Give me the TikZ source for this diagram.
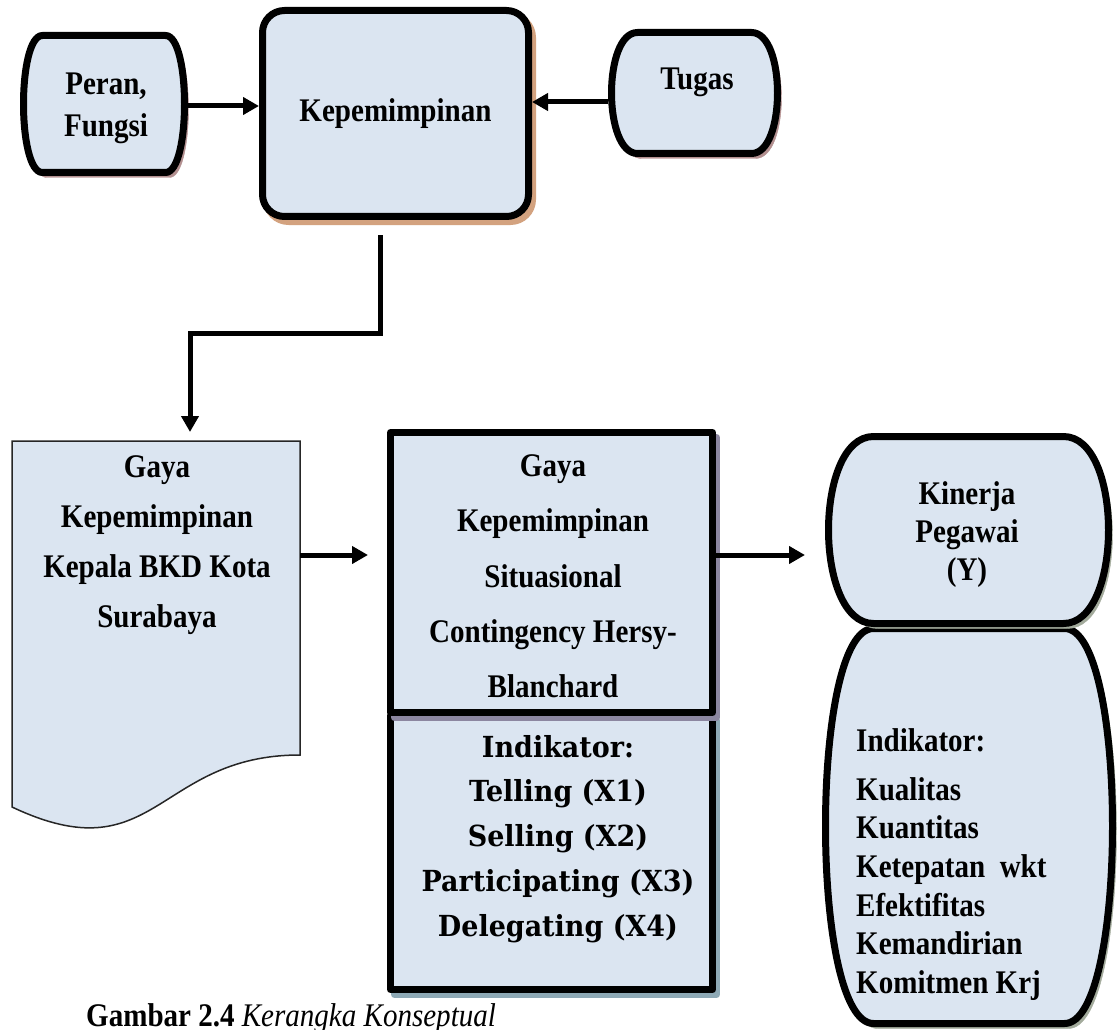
\documentclass[tikz,border=0pt]{standalone}
\usepackage{fontspec}
\setmainfont[FakeStretch=0.88]{Liberation Serif}
\newfontfamily\cambriafont[FakeStretch=0.93]{DejaVu Serif}
\usetikzlibrary{arrows.meta,calc,positioning}
\definecolor{BoxFill}{HTML}{DBE5F1}
\definecolor{ShadeRose}{HTML}{B39090}
\definecolor{ShadeTan}{HTML}{D3A27F}
\definecolor{ShadeMauve}{HTML}{8C86A0}
\definecolor{ShadeSlate}{HTML}{8EA9B5}
\definecolor{ShadeSage}{HTML}{A3AB9C}
\tikzset{
  flowarrow/.style={-{Triangle[length=16pt,width=17pt]},line width=5pt},
  boxline/.style={draw=black,line width=7pt,fill=BoxFill,line join=round},
  shadowcast/.style={fill=#1,draw=#1,transform canvas={shift={(4pt,-5pt)}}},
  slot/.style n args={2}{inner sep=0pt,outer sep=0pt,minimum width=#1,minimum height=#2},
  txt/.style={inner sep=0pt,align=center,font=\bfseries\fontsize{33pt}{#1}\selectfont},
  sittxt/.style={inner sep=0pt,align=center,font=\cambriafont\bfseries\fontsize{29pt}{44.75pt}\selectfont},
  kepbox/.style={boxline,rounded corners=22pt,preaction={shadowcast=ShadeTan},minimum width=266pt,minimum height=206pt,font=\bfseries\fontsize{33pt}{40pt}\selectfont},
  sqbox/.style={boxline,preaction={shadowcast=#1}},
  docline/.style={draw=black!85,line width=1.5pt,fill=BoxFill}
}
% barrel shaped box round an empty slot node
\newcommand{\barrelbox}[3]{%
  \path[boxline,preaction={shadowcast=#3}] let \p1=(#1.north west),\p2=(#1.south east) in
    (\x1+#2+3.5pt,\y1-3.5pt) -- (\x2-#2-3.5pt,\y1-3.5pt)
    .. controls (\x2-3.5pt+#2/3,\y1-3.5pt) and (\x2-3.5pt+#2/3,\y2+3.5pt) .. (\x2-#2-3.5pt,\y2+3.5pt)
    -- (\x1+#2+3.5pt,\y2+3.5pt)
    .. controls (\x1+3.5pt-#2/3,\y2+3.5pt) and (\x1+3.5pt-#2/3,\y1-3.5pt) .. cycle;}

\begin{document}
\begin{tikzpicture}[x=1pt,y=-1pt]
  \fill[white] (0,0) rectangle (1120,1030);
  \useasboundingbox (0,0) rectangle (1120,1030);

  % top row
  \node[slot={168pt}{144pt}] (peran) at (104,104) {};
  \node[slot={173pt}{128pt}] (tugas) at (694.5,93) {};
  \barrelbox{peran}{19pt}{ShadeRose}
  \barrelbox{tugas}{26pt}{ShadeRose}
  \node[kepbox] (kep) at (395.5,113.5) {Kepemimpinan};
  \node[txt=42pt,anchor=north] at (106,73) {Peran,\\Fungsi};
  \node[txt=40pt,anchor=base] at (697,90) {Tugas};

  % bottom row
  \node[slot={288pt}{314pt}] (gaya) at (156,598) {};
  \path[docline] (gaya.north west) -- (gaya.north east) -- (gaya.south east)
    .. controls (gaya.south) and ($(gaya.south)+(0,120)$) .. ($(gaya.south west)+(0,52)$) -- cycle;
  \node[txt=50pt,anchor=north] at (157,455.5) {Gaya\\Kepemimpinan\\Kepala BKD Kota\\Surabaya};

  \node[sqbox=ShadeSlate,minimum width=322pt,minimum height=274pt] (indsit) at (551.5,852.5) {};
  \node[sqbox=ShadeMauve,minimum width=322pt,minimum height=280pt] (situasi) at (551.5,572.5) {};
  \node[txt=55.25pt,anchor=north] at (553,454.5) {Gaya\\Kepemimpinan\\Situasional\\Contingency Hersy-\\Blanchard};
  \node[sittxt,anchor=north] at (558,735) {Indikator:\\Telling (X1)\\Selling (X2)\\Participating (X3)\\Delegating (X4)};

  \node[slot={294pt}{402pt}] (indkin) at (969,826) {};
  \node[slot={287pt}{194pt}] (kinerja) at (968.5,530) {};
  \barrelbox{indkin}{48pt}{ShadeSage}
  \barrelbox{kinerja}{45pt}{ShadeSage}
  \node[txt=38pt,anchor=north] at (967,481.5) {Kinerja\\Pegawai\\(Y)};
  \node[txt=38.6pt,anchor=north west,align=left] at (856,728.5)
    {Indikator:\\[10pt]Kualitas\\Kuantitas\\Ketepatan~ wkt\\Efektifitas\\Kemandirian\\Komitmen Krj};

  \node[anchor=base west,inner sep=0pt,font=\fontsize{33pt}{40pt}\selectfont] (caption) at (86,1026)
    {\textbf{Gambar 2.4} \textit{Kerangka Konseptual}};

  % connectors
  \draw[flowarrow] ([yshift=-2pt]peran.east) -- ([yshift=-2pt]peran.east -| kep.west);
  \draw[flowarrow] ([yshift=-9pt]tugas.west) -- ([yshift=-9pt]tugas.west -| kep.east);
  \draw[flowarrow] ([xshift=-15pt,yshift=-15pt]kep.south) -- ++(0,98) -| ([xshift=34pt,yshift=9pt]gaya.north);
  \draw[flowarrow] ([yshift=43pt]gaya.east) -- ([yshift=43pt,xshift=-19pt]gaya.east -| situasi.west);
  \draw[flowarrow] ([yshift=17.5pt]situasi.east) -- ([yshift=17.5pt,xshift=-20pt]situasi.east -| kinerja.west);
\end{tikzpicture}
\end{document}
